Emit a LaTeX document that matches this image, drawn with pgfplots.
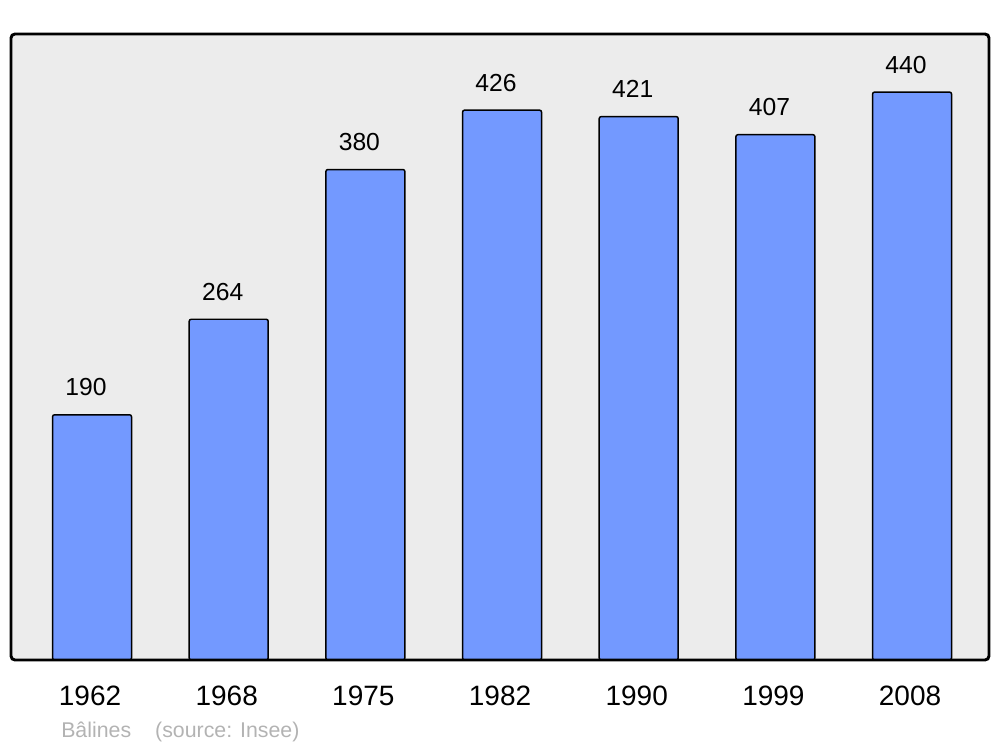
\documentclass[border=0pt]{standalone}
\usepackage{pgfplots}
\pgfplotsset{compat=1.18}
\usepackage{fontspec}
\setmainfont{Liberation Sans}
\definecolor{bgc}{HTML}{ECECEC}
\definecolor{barc}{HTML}{7399FF}
\definecolor{srcc}{HTML}{B3B3B3}
\begin{document}
\begin{tikzpicture}
\begin{axis}[
  name=ax,
  scale only axis,
  width=733.5pt, height=469.5pt,
  xmin=-0.593, xmax=6.563,
  ymin=0, ymax=485,
  ybar, bar width=59.25pt,
  xtick=data,
  xticklabels={1962,1968,1975,1982,1990,1999,2008},
  ytick=\empty,
  major tick length=0pt,
  /pgf/number format/assume math mode=true,
  axis line style={draw=none},
  axis background/.style={fill=bgc, rounded corners=3pt},
  xticklabel style={anchor=base, yshift=-33.75pt, xshift=-1.5pt, font=\fontsize{21}{25}\selectfont},
  nodes near coords,
  every node near coord/.append style={anchor=base, yshift=14.25pt, xshift=-4.5pt, font=\fontsize{18.5}{21}\selectfont, text=black},
  clip=false,
]
\addplot[fill=barc, draw=black, line width=1.1pt, rounded corners=1.5pt] coordinates {
(0,190) (1,264) (2,380) (3,426) (4,421) (5,407) (6,440)};
\draw[line width=2.2pt, rounded corners=3pt] (rel axis cs:0,0) rectangle (rel axis cs:1,1);
\node[anchor=base west, text=srcc, font=\fontsize{16}{19}\selectfont, inner sep=0pt] at ([xshift=37.5pt, yshift=-57.75pt]rel axis cs:0,0) {Bâlines\hspace{18pt}(source: Insee)};
\end{axis}
\path ([xshift=-8.25pt, yshift=-65.25pt]ax.south west) rectangle ([xshift=8.25pt, yshift=25.5pt]ax.north east);
\end{tikzpicture}
\end{document}
